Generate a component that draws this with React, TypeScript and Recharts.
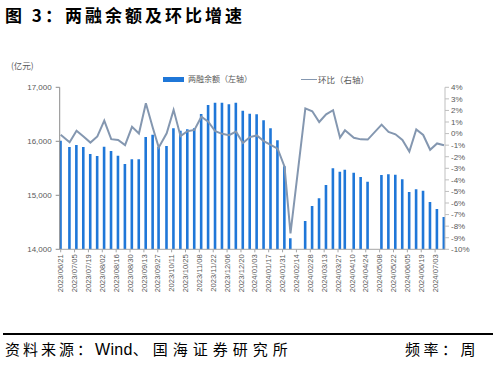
import { ComposedChart, Bar, Line, XAxis, YAxis } from "recharts";

// weekly observations (last trading day of each week)
const dates = [
  "2023/06/21", "2023/06/30", "2023/07/07", "2023/07/14", "2023/07/21", "2023/07/28",
  "2023/08/04", "2023/08/11", "2023/08/18", "2023/08/25", "2023/09/01", "2023/09/08",
  "2023/09/15", "2023/09/22", "2023/09/28", "2023/10/06", "2023/10/13", "2023/10/20",
  "2023/10/27", "2023/11/03", "2023/11/10", "2023/11/17", "2023/11/24", "2023/12/01",
  "2023/12/08", "2023/12/15", "2023/12/22", "2023/12/29", "2024/01/05", "2024/01/12",
  "2024/01/19", "2024/01/26", "2024/02/02", "2024/02/08", "2024/02/23", "2024/03/01",
  "2024/03/08", "2024/03/15", "2024/03/22", "2024/03/29", "2024/04/03", "2024/04/12",
  "2024/04/19", "2024/04/26", "2024/05/10", "2024/05/17", "2024/05/24", "2024/05/31",
  "2024/06/07", "2024/06/14", "2024/06/21", "2024/06/28", "2024/07/05", "2024/07/12",
];

// 两融余额（亿元）
const balance = [
  16010, 15894, 15931, 15894, 15765, 15728, 15900, 15820, 15733, 15580, 15667, 15667,
  16080, 16120, 15900, 15913, 16243, 16196, 16222, 16240, 16505, 16672, 16712, 16712,
  16685, 16712, 16565, 16511, 16500, 16392, 16240, 16018, 15540, 14205, 14524, 14802,
  14944, 15191, 15500, 15437, 15474, 15419, 15339, 15252, 15376, 15389, 15381, 15296,
  15061, 15111, 15085, 14876, 14746, 14598,
];

// 环比（%）
const change = [
  -0.1, -0.75, 0.25, -0.25, -0.78, -0.25, 1.12, -0.48, -0.55, -1.0, 0.58, 0.0,
  2.62, 0.5, -1.2, 0.02, 2.05, -0.22, 0.2, 0.32, 1.45, 1.02, 0.2, -0.02,
  -0.14, 0.17, -0.82, -0.3, -0.16, -0.65, -0.98, -1.3, -2.86, -8.62, 2.18, 1.93,
  1.0, 1.66, 2.02, -0.35, 0.28, -0.36, -0.5, -0.52, 0.77, 0.14, -0.06, -0.55,
  -1.55, 0.35, -0.12, -1.4, -0.85, -1.0,
];

const tickLabels = [
  "2023/06/21", "2023/07/05", "2023/07/19", "2023/08/02", "2023/08/16", "2023/08/30",
  "2023/09/13", "2023/09/27", "2023/10/11", "2023/10/25", "2023/11/08", "2023/11/22",
  "2023/12/06", "2023/12/20", "2024/01/03", "2024/01/17", "2024/01/31", "2024/02/14",
  "2024/02/28", "2024/03/13", "2024/03/27", "2024/04/10", "2024/04/24", "2024/05/08",
  "2024/05/22", "2024/06/05", "2024/06/19", "2024/07/03",
];

const leftTicks = [14000, 15000, 16000, 17000];
const rightTicks = [-10, -9, -8, -7, -6, -5, -4, -3, -2, -1, 0, 1, 2, 3, 4];

const toUtc = (s: string) => {
  const [y, m, d] = s.split("/").map(Number);
  return Date.UTC(y, m - 1, d);
};
const base = toUtc(dates[0]);
const dayOf = (s: string) => Math.round((toUtc(s) - base) / 86400000);

const data = dates.map((d, i) => ({
  t: dayOf(d),
  date: d,
  balance: balance[i],
  change: change[i],
}));
const tickDays = tickLabels.map(dayOf);

const BLUE = "#1f77d8";
const LINE = "#8497b0";
const AXIS_TXT = "#595959";
const LATIN = "'Liberation Sans', Arial, sans-serif";
const CJK = "'Noto Sans CJK SC', 'Liberation Sans', sans-serif";

function DateTick({ x, y, payload }: any) {
  const i = tickDays.indexOf(payload.value);
  const label = i >= 0 ? tickLabels[i] : "";
  return (
    <text
      x={x}
      y={y}
      dy="0.35em"
      transform={`rotate(-90 ${x} ${y})`}
      textAnchor="end"
      fontSize={7.6}
      fill={AXIS_TXT}
      fontFamily={LATIN}
    >
      {label}
    </text>
  );
}

export default function App() {
  return (
    <div
      style={{
        position: "absolute",
        left: 0,
        top: 0,
        width: 498,
        height: 365,
        background: "#fff",
        overflow: "hidden",
      }}
    >
      <div
        style={{
          position: "absolute",
          left: 5,
          top: 2,
          fontFamily: CJK,
          fontWeight: 700,
          fontSize: 17,
          letterSpacing: 3,
          color: "#000",
          whiteSpace: "nowrap",
        }}
      >
        图 3：两融余额及环比增速
      </div>

      <div
        style={{
          position: "absolute",
          left: 11,
          top: 59,
          fontFamily: CJK,
          fontSize: 8.5,
          color: AXIS_TXT,
          whiteSpace: "nowrap",
        }}
      >
        (亿元)
      </div>

      {/* legend */}
      <div style={{ position: "absolute", left: 163, top: 77, width: 21, height: 4.5, background: BLUE }} />
      <div
        style={{
          position: "absolute",
          left: 188,
          top: 73,
          fontFamily: CJK,
          fontSize: 8,
          lineHeight: "12px",
          color: AXIS_TXT,
          whiteSpace: "nowrap",
        }}
      >
        两融余额（左轴）
      </div>
      <div style={{ position: "absolute", left: 301, top: 78.5, width: 16, height: 1.6, background: LINE }} />
      <div
        style={{
          position: "absolute",
          left: 318,
          top: 73,
          fontFamily: CJK,
          fontSize: 8.5,
          lineHeight: "12px",
          color: AXIS_TXT,
          whiteSpace: "nowrap",
        }}
      >
        环比（右轴）
      </div>

      <div style={{ position: "absolute", left: 0, top: 0 }}>
        <ComposedChart
          width={498}
          height={330}
          data={data}
          margin={{ top: 87.3, right: 13, left: 9.7, bottom: 0 }}
        >
          <XAxis
            dataKey="t"
            type="number"
            domain={[-1, 388]}
            allowDataOverflow
            ticks={tickDays}
            interval={0}
            tick={<DateTick />}
            tickSize={3}
            tickMargin={2}
            height={80.7}
            stroke="#a6a6a6"
          />
          <YAxis
            yAxisId="left"
            orientation="left"
            domain={[14000, 17000]}
            ticks={leftTicks}
            interval={0}
            width={50}
            tickSize={4}
            tickMargin={4}
            tickFormatter={(v: number) => v.toLocaleString("en-US")}
            tick={{ fontSize: 8, fill: AXIS_TXT, fontFamily: LATIN }}
            stroke="#8c8c8c"
          />
          <YAxis
            yAxisId="right"
            orientation="right"
            domain={[-10, 4]}
            ticks={rightTicks}
            interval={0}
            width={40}
            tickSize={4}
            tickMargin={2}
            tickFormatter={(v: number) => `${v}%`}
            tick={{ fontSize: 8, fill: AXIS_TXT, fontFamily: LATIN }}
            stroke="#bfbfbf"
          />
          <Bar
            yAxisId="left"
            dataKey="balance"
            fill={BLUE}
            barSize={2.6}
            isAnimationActive={false}
          />
          <Line
            yAxisId="right"
            dataKey="change"
            type="linear"
            stroke={LINE}
            strokeWidth={2}
            dot={false}
            activeDot={false}
            isAnimationActive={false}
          />
        </ComposedChart>
      </div>

      <div
        style={{
          position: "absolute",
          left: 3,
          top: 333,
          width: 490,
          height: 1.5,
          background: "#000",
        }}
      />
      <div
        style={{
          position: "absolute",
          left: 5,
          top: 339,
          fontFamily: CJK,
          fontSize: 15,
          lineHeight: "20px",
          letterSpacing: 3,
          color: "#000",
          whiteSpace: "nowrap",
        }}
      >
        资料来源：
        <span style={{ letterSpacing: 0.3, fontFamily: LATIN, fontSize: 16 }}>Wind</span>
        <span style={{ letterSpacing: 5 }}>、国海证券研究所</span>
      </div>
      <div
        style={{
          position: "absolute",
          left: 405,
          top: 339,
          fontFamily: CJK,
          fontSize: 15,
          lineHeight: "20px",
          letterSpacing: 3.5,
          color: "#000",
          whiteSpace: "nowrap",
        }}
      >
        频率：周
      </div>
    </div>
  );
}
